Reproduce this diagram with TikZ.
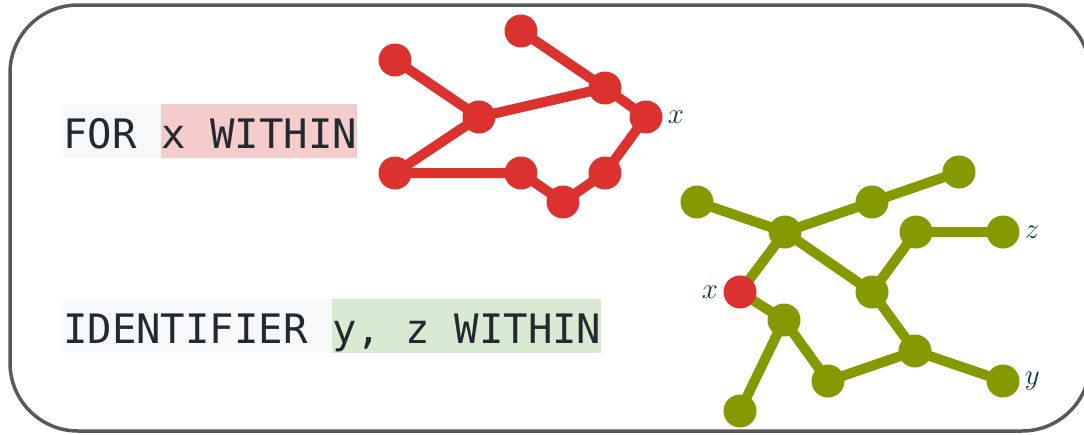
\documentclass[tikz,border=0pt]{standalone}
\usepackage{fix-cm}
\usepackage{fontspec}
\newfontfamily\codefont{DejaVu Sans Mono}
\usetikzlibrary{positioning,
                backgrounds}

\definecolor{solred}{HTML}{DC322F}
\definecolor{solgreen}{HTML}{859900}
\definecolor{codeink}{HTML}{24292E}
\definecolor{codebg}{HTML}{F6F8FA}
\definecolor{hlred}{HTML}{F4CCCC}
\definecolor{hlgreen}{HTML}{D9EAD3}
\definecolor{lblink}{HTML}{073642}
\definecolor{framegray}{HTML}{595959}

\begin{document}
\begin{tikzpicture}[x=1pt, y=-1pt,
    code/.style={inner sep=0pt, anchor=base west, text height=44pt, text depth=10pt,
                 text=codeink, font=\codefont\fontsize{40.6}{40.6}\selectfont},
    blob/.style={circle, inner sep=0pt, minimum size=33pt},
    rdot/.style={blob, fill=solred},
    gdot/.style={blob, fill=solgreen},
    bond/.style={line width=10pt, line join=round},
    lbl/.style={inner sep=0pt, text=lblink, font=\fontsize{29}{29}\selectfont}]
    \useasboundingbox (0, 0) rectangle (1084, 434);

    \draw[framegray, line width=3.5pt, rounded corners=68pt] (10, 5) rectangle (1090, 431);

    % query text
    \node[code, fill=codebg] (forkw) at (63, 148) {FOR\ \mbox{}};
    \node[code, fill=hlred, right=0pt of forkw] (xwithin) {x WITHIN};
    \node[code, fill=codebg] (identkw) at (63, 343) {IDENTIFIER\ \mbox{}};
    \node[code, fill=hlgreen, right=0pt of identkw] (yzwithin) {y, z WITHIN};

    % red graph
    \node[rdot] (r1) at (395,  60) {};
    \node[rdot] (r2) at (521,  31) {};
    \node[rdot] (r3) at (479, 117) {};
    \node[rdot] (r4) at (605,  88) {};
    \node[rdot] (r5) at (646, 117) {};
    \node[rdot] (r6) at (395, 173) {};
    \node[rdot] (r7) at (521, 173) {};
    \node[rdot] (r8) at (563, 202) {};
    \node[rdot] (r9) at (605, 173) {};

    % green graph
    \node[gdot] (g1)  at (697, 202) {};
    \node[gdot] (g2)  at (785, 232) {};
    \node[gdot] (g3)  at (872, 202) {};
    \node[gdot] (g4)  at (959, 172) {};
    \node[gdot] (g5)  at (916, 232) {};
    \node[gdot] (g6)  at (1003, 232) {};
    \node[gdot] (g7)  at (872, 292) {};
    \node[rdot] (gx)  at (740, 292) {};
    \node[gdot] (g8)  at (784, 320) {};
    \node[gdot] (g9)  at (740, 411) {};
    \node[gdot] (g10) at (828, 381) {};
    \node[gdot] (g11) at (915, 351) {};
    \node[gdot] (g12) at (1003, 381) {};

    \begin{scope}[on background layer]
      \draw[bond, solred] (r1.center) -- (r3.center) -- (r4.center) -- (r5.center)
                          -- (r9.center) -- (r8.center) -- (r7.center) -- (r6.center)
                          -- (r3.center);
      \draw[bond, solred] (r2.center) -- (r4.center);
      \draw[bond, solgreen] (g1.center) -- (g2.center) -- (g3.center) -- (g4.center);
      \draw[bond, solgreen] (gx.center) -- (g2.center) -- (g7.center) -- (g5.center) -- (g6.center);
      \draw[bond, solgreen] (g7.center) -- (g11.center) -- (g12.center);
      \draw[bond, solgreen] (g11.center) -- (g10.center) -- (g8.center) -- (gx.center);
      \draw[bond, solgreen] (g8.center) -- (g9.center);
    \end{scope}

    \node[lbl, right=5pt of r5]  (xlabel)  {$x$};
    \node[lbl, right=5pt of g6]  (zlabel)  {$z$};
    \node[lbl, right=5pt of g12] (ylabel)  {$y$};
    \node[lbl, left=5pt of gx]   (xlabelg) {$x$};
  \end{tikzpicture}
\end{document}
